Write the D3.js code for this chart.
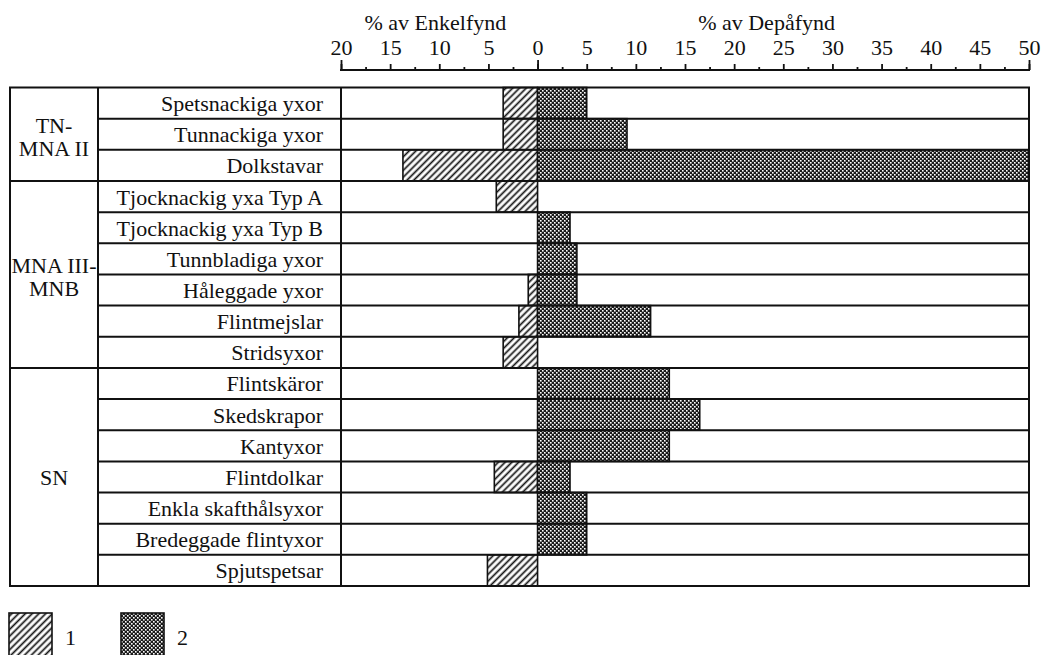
<!DOCTYPE html>
<html>
<head>
<meta charset="utf-8">
<script src="https://cdn.jsdelivr.net/npm/d3@7/dist/d3.min.js"></script>
<style>
  html, body { margin: 0; padding: 0; background: #fff; }
  svg { display: block; }
  svg text { font-family: 'Liberation Serif', 'Times New Roman', Times, Tinos, 'DejaVu Serif', 'Noto Serif', serif !important; fill: #111; }
</style>
</head>
<body>
<svg id="chart" width="1043" height="655"></svg>
<script>
// ---- data ----
const categories = [
  "Spetsnackiga yxor", "Tunnackiga yxor", "Dolkstavar",
  "Tjocknackig yxa Typ A", "Tjocknackig yxa Typ B", "Tunnbladiga yxor",
  "Håleggade yxor", "Flintmejslar", "Stridsyxor",
  "Flintskäror", "Skedskrapor", "Kantyxor", "Flintdolkar",
  "Enkla skafthålsyxor", "Bredeggade flintyxor", "Spjutspetsar"
];
const enkelfynd = [3.5, 3.5, 13.7, 4.2, 0, 0, 0.95, 1.9, 3.5, 0, 0, 0, 4.4, 0, 0, 5.1];
const depafynd  = [5.0, 9.1, 50, 0, 3.3, 4.0, 4.0, 11.5, 0, 13.4, 16.5, 13.4, 3.3, 5.0, 5.0, 0];
const groupLabels = [["TN-", "MNA II"], ["MNA III-", "MNB"], ["SN"]];
const groupSizes = [3, 6, 7];
const majorTicks = [-20, -15, -10, -5, 0, 5, 10, 15, 20, 25, 30, 35, 40, 45, 50];
const endTicks = [-20, 0, 50];
const minorTicks = [-17.5, -12.5, -7.5, -2.5, 2.5, 7.5, 12.5, 17.5, 22.5, 27.5, 32.5, 37.5, 42.5, 47.5];
const axisTitles = [{ text: "% av Enkelfynd", at: -10.4 }, { text: "% av Depåfynd", at: 23.3 }];
const legendItems = ["1", "2"];

// ---- layout ----
const svg = d3.select("#chart");
const INK = "#111";
const FONT = "'Liberation Serif', 'Times New Roman', Times, Tinos, 'DejaVu Serif', 'Noto Serif', serif";
const tableLeft = 10, groupRight = 98;
const x = d3.scaleLinear().domain([-20, 50]).range([341, 1029]);
const y = d3.scaleBand().domain(categories).range([87.5, 586]).padding(0);
const axisY = 70;
const fontSize = 22;

// ---- patterns ----
const defs = svg.append("defs");
const hatch = defs.append("pattern").attr("id", "hatch")
  .attr("patternUnits", "userSpaceOnUse").attr("width", 4.8).attr("height", 4.8)
  .attr("patternTransform", "rotate(45)");
hatch.append("rect").attr("width", 4.8).attr("height", 4.8).attr("fill", "#fff");
hatch.append("line").attr("x1", 2.4).attr("y1", 0).attr("x2", 2.4).attr("y2", 4.8)
  .attr("stroke", INK).attr("stroke-width", 1.7);

const stip = defs.append("pattern").attr("id", "stipple")
  .attr("patternUnits", "userSpaceOnUse").attr("width", 4).attr("height", 4);
stip.append("rect").attr("width", 4).attr("height", 4).attr("fill", "#1a1a1a");
stip.append("rect").attr("x", 0).attr("y", 0).attr("width", 1.6).attr("height", 1.6).attr("fill", "#fff");
stip.append("rect").attr("x", 2).attr("y", 2).attr("width", 1.6).attr("height", 1.6).attr("fill", "#fff");

// ---- axis ----
const fmt = d => Math.abs(d);
const gAxis = svg.append("g").attr("transform", `translate(0,${axisY})`);
gAxis.call(d3.axisTop(x).tickValues(majorTicks).tickSize(6).tickPadding(9).tickFormat(fmt));
gAxis.append("g").call(d3.axisTop(x).tickValues(endTicks).tickSize(10).tickFormat(""));
gAxis.append("g").call(d3.axisTop(x).tickValues(minorTicks).tickSize(3).tickFormat(""));
gAxis.selectAll("g").attr("font-family", null);
gAxis.attr("font-family", null);
gAxis.selectAll(".domain").remove();
gAxis.selectAll(".tick line").attr("stroke", INK).attr("stroke-width", 1.8);
gAxis.selectAll(".tick text").attr("font-family", FONT).style("font-family", FONT)
  .style("font-size", fontSize + "px").attr("fill", INK);
gAxis.append("line").attr("x1", x(-20) - 1).attr("x2", x(50) + 1).attr("y1", 0).attr("y2", 0)
  .attr("stroke", INK).attr("stroke-width", 2);

svg.selectAll("text.title").data(axisTitles).join("text").attr("class", "title")
  .attr("x", d => x(d.at)).attr("y", 30).attr("text-anchor", "middle")
  .attr("font-family", FONT).style("font-size", fontSize + "px").text(d => d.text);

// ---- table background ----
svg.append("rect").attr("x", tableLeft).attr("y", y.range()[0])
  .attr("width", x(50) - tableLeft).attr("height", y.range()[1] - y.range()[0]).attr("fill", "#fff");

// ---- bars ----
const rows = categories.map((c, i) => ({ c, e: enkelfynd[i], d: depafynd[i] }));
svg.append("g").selectAll("rect").data(rows.filter(r => r.e > 0)).join("rect")
  .attr("x", r => x(-r.e)).attr("width", r => x(0) - x(-r.e))
  .attr("y", r => y(r.c)).attr("height", y.bandwidth())
  .attr("fill", "url(#hatch)").attr("stroke", INK).attr("stroke-width", 1.6);
svg.append("g").selectAll("rect").data(rows.filter(r => r.d > 0)).join("rect")
  .attr("x", x(0)).attr("width", r => x(r.d) - x(0))
  .attr("y", r => y(r.c)).attr("height", y.bandwidth())
  .attr("fill", "url(#stipple)").attr("stroke", INK).attr("stroke-width", 1.6);

// ---- grid lines ----
const gLines = svg.append("g").attr("stroke", INK).attr("stroke-width", 2).attr("fill", "none");
gLines.append("rect").attr("x", tableLeft).attr("y", y.range()[0])
  .attr("width", x(50) - tableLeft).attr("height", y.range()[1] - y.range()[0]);
[groupRight, x(-20)].forEach(xx => gLines.append("line")
  .attr("x1", xx).attr("x2", xx).attr("y1", y.range()[0]).attr("y2", y.range()[1]));
const groupStarts = [];
groupSizes.reduce((acc, n) => { groupStarts.push(acc); return acc + n; }, 0);
categories.forEach((c, i) => {
  if (i === 0) return;
  const isGroup = groupStarts.includes(i);
  gLines.append("line").attr("x1", isGroup ? tableLeft : groupRight).attr("x2", x(50))
    .attr("y1", y(c)).attr("y2", y(c));
});

// ---- row labels ----
svg.append("g").selectAll("text").data(categories).join("text")
  .attr("x", 323).attr("y", c => y(c) + y.bandwidth() / 2 + 8)
  .attr("text-anchor", "end").attr("font-family", FONT).style("font-size", fontSize + "px").text(c => c);

// ---- group labels ----
groupLabels.forEach((lines, gi) => {
  const first = categories[groupStarts[gi]];
  const last = categories[groupStarts[gi] + groupSizes[gi] - 1];
  const cy = (y(first) + y(last) + y.bandwidth()) / 2;
  lines.forEach((l, li) => {
    const yy = lines.length === 1 ? cy + 8 : cy - 1 + li * 23;
    svg.append("text").attr("text-anchor", "middle").attr("font-family", FONT)
      .style("font-size", fontSize + "px")
      .attr("x", (tableLeft + groupRight) / 2).attr("y", yy).text(l);
  });
});

// ---- legend ----
const lg = svg.append("g").selectAll("g").data(legendItems).join("g")
  .attr("transform", (d, i) => `translate(${9 + i * 112},613)`);
lg.append("rect").attr("width", 43).attr("height", 44)
  .attr("fill", (d, i) => i === 0 ? "url(#hatch)" : "url(#stipple)")
  .attr("stroke", INK).attr("stroke-width", 1.6);
lg.append("text").attr("x", 56).attr("y", 32).attr("font-family", FONT)
  .style("font-size", fontSize + "px").text(d => d);
</script>
</body>
</html>
